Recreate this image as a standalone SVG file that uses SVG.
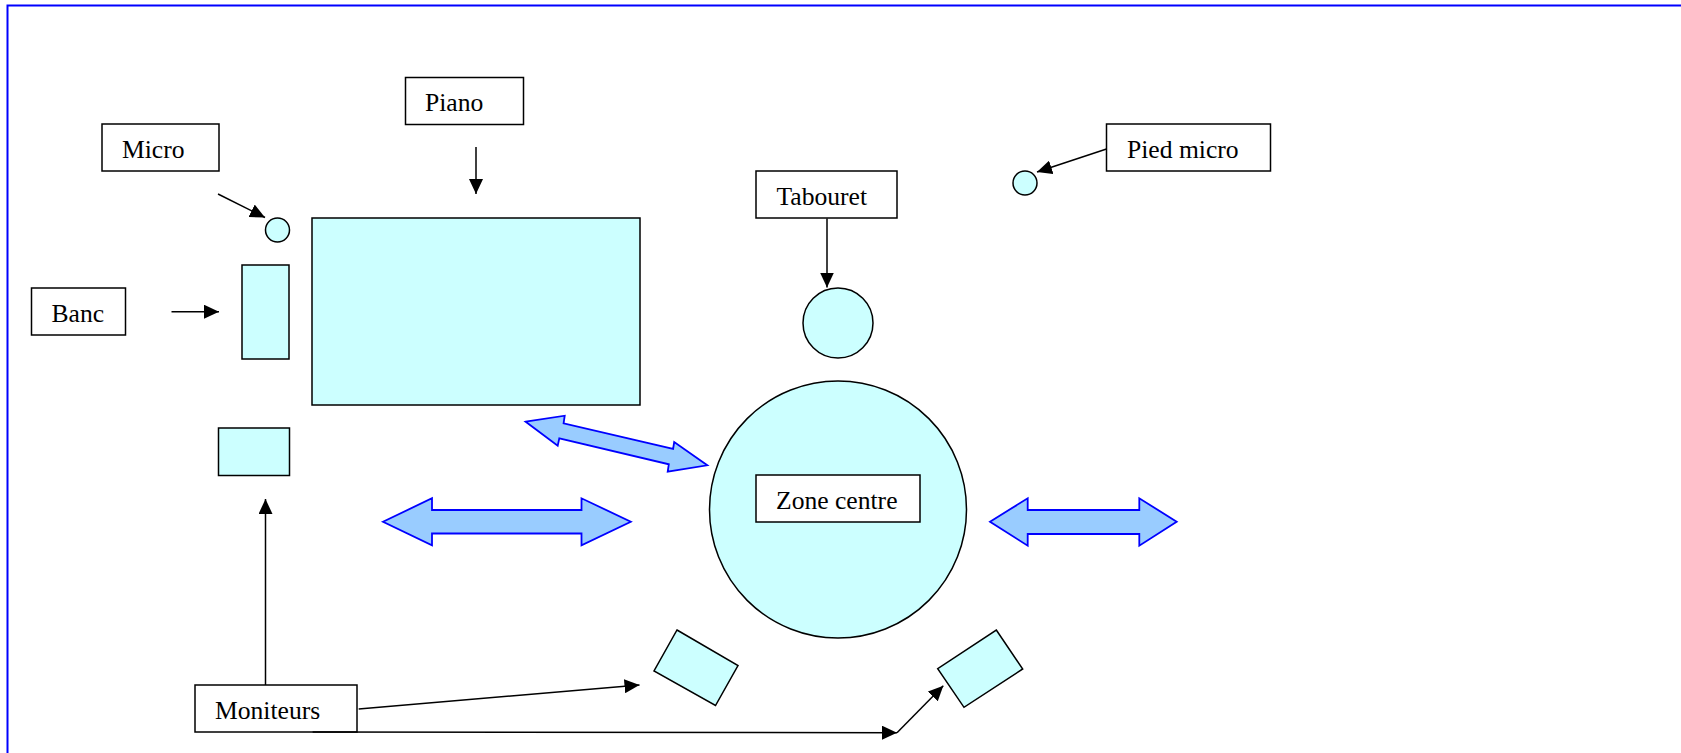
<svg xmlns="http://www.w3.org/2000/svg" width="1681" height="753" viewBox="0 0 1681 753">
<style>
.lbl{fill:#fff;stroke:#000;stroke-width:1.5}
.obj{fill:#CCFFFF;stroke:#000;stroke-width:1.5}
.txt{font-family:"Liberation Serif","Times New Roman",serif;font-size:25.6px;fill:#000}
.con{stroke:#000;stroke-width:1.5;fill:none;marker-end:url(#ah)}
.dbl{fill:#99CCFF;stroke:#0000FF;stroke-width:1.8;stroke-linejoin:miter}
</style>
<defs>
<marker id="ah" markerUnits="userSpaceOnUse" markerWidth="16" markerHeight="14" viewBox="0 0 16 14" refX="15" refY="7" orient="auto">
<path d="M0,0 L15,7 L0,14 Z" fill="#000"/>
</marker>
</defs>
<rect width="1681" height="753" fill="#fff"/>
<path d="M7.5,753 V5.5 H1681" fill="none" stroke="#0000FF" stroke-width="2"/>

<g id="piano"><rect class="obj" x="312" y="218" width="328" height="187"/></g>
<g id="banc-obj"><rect class="obj" x="242" y="265" width="47" height="94"/></g>
<g id="micro-obj"><circle class="obj" cx="277.5" cy="230" r="12"/></g>
<g id="pied-micro-obj"><circle class="obj" cx="1025" cy="183" r="12"/></g>
<g id="tabouret-obj"><circle class="obj" cx="838" cy="323" r="35"/></g>
<g id="zone-centre-obj"><circle class="obj" cx="838" cy="509.5" r="128.5"/></g>
<g id="moniteur-1"><rect class="obj" x="218.5" y="428" width="71" height="47.5"/></g>
<g id="moniteur-2"><polygon class="obj" points="677,630 738,665.5 715.5,705.5 654,671"/></g>
<g id="moniteur-3"><polygon class="obj" points="996.3,630 1022.7,669 964,707.3 937.7,668.7"/></g>

<g id="arrows-blue">
<polygon class="dbl" points="383,521.7 432,498.3 432,510 581.5,510 581.5,498.3 630.8,521.7 581.5,545.3 581.5,533.5 432,533.5 432,545.3"/>
<polygon class="dbl" points="990,521.7 1027.7,498.3 1027.7,510 1139.3,510 1139.3,498.3 1176.7,521.7 1139.3,545.7 1139.3,534 1027.7,534 1027.7,545.7"/>
<polygon class="dbl" points="525.7,421.7 564.7,415.7 563.6,423.3 673.1,449 674.2,442 707.3,465.3 667.7,471.7 668.8,464.3 559.3,438.3 557.7,445.7"/>
</g>

<g id="label-piano"><rect class="lbl" x="405.5" y="77.5" width="118" height="47"/><text class="txt" x="425" y="111">Piano</text></g>
<g id="label-micro"><rect class="lbl" x="102" y="124" width="117" height="47"/><text class="txt" x="122" y="157.7">Micro</text></g>
<g id="label-banc"><rect class="lbl" x="31.5" y="288" width="94" height="47"/><text class="txt" x="51.5" y="322">Banc</text></g>
<g id="label-pied-micro"><rect class="lbl" x="1106.5" y="124" width="164" height="47"/><text class="txt" x="1127" y="158">Pied micro</text></g>
<g id="label-tabouret"><rect class="lbl" x="756" y="171" width="141" height="47"/><text class="txt" x="776.5" y="205">Tabouret</text></g>
<g id="label-zone-centre"><rect class="lbl" x="756" y="475" width="164" height="47"/><text class="txt" x="776" y="508.5">Zone centre</text></g>
<g id="label-moniteurs"><rect class="lbl" x="195" y="685" width="162" height="47"/><text class="txt" x="215" y="718.5">Moniteurs</text></g>

<g id="connectors">
<path class="con" d="M218,194 L265,217.5"/>
<path class="con" d="M476,147 V194"/>
<path class="con" d="M171.5,311.7 H219"/>
<path class="con" d="M1106.5,149 L1037,172"/>
<path class="con" d="M827,218.5 V287.5"/>
<path class="con" d="M265.5,685 V499"/>
<path class="con" d="M358.7,709 L639.5,685"/>
<path class="con" d="M312.6,732 L897,732.7"/>
<path class="con" d="M897,732.7 L943.3,685.7"/>
</g>
</svg>
